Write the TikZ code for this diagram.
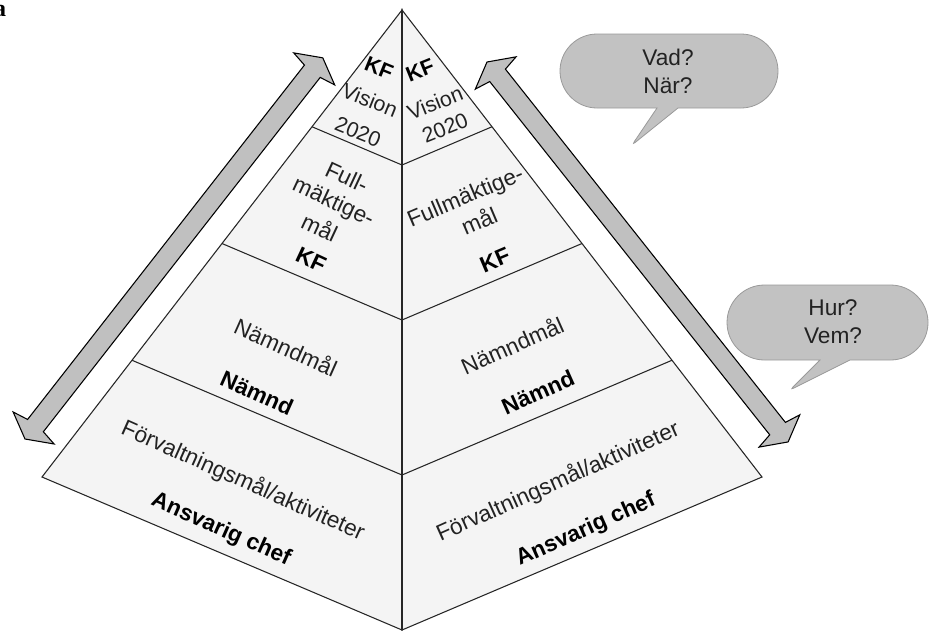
\documentclass[tikz,border=0pt]{standalone}
\usepackage{fontspec}
\setmainfont{Liberation Sans}
\newfontfamily\serifbold{Liberation Serif}
\usetikzlibrary{calc}
\definecolor{facefill}{HTML}{F4F4F4}
\definecolor{edgecol}{HTML}{262626}
\definecolor{arrowfill}{HTML}{C0C0C0}
\definecolor{bubblefill}{HTML}{C2C2C2}
\definecolor{bubbleedge}{HTML}{9A9A9A}
\definecolor{txt}{HTML}{222222}
\begin{document}
\begin{tikzpicture}[x=0.75pt,y=0.75pt,
  face/.style={fill=facefill,draw=edgecol,line width=0.8pt,line join=miter},
  divider/.style={draw=edgecol,line width=0.8pt},
  arrowshape/.style={fill=arrowfill,draw=black,line width=0.8pt,miter limit=20},
  bubble/.style={fill=bubblefill,draw=bubbleedge,line width=0.6pt},
  lbl/.style={font=\fontsize{17}{20}\selectfont,text=txt,inner sep=0pt},
  blbl/.style={font=\fontsize{17}{20}\selectfont\bfseries,text=black,inner sep=0pt},
  tlbl/.style={font=\fontsize{16}{19}\selectfont,text=txt,inner sep=0pt},
  tblbl/.style={font=\fontsize{16}{19}\selectfont\bfseries,text=black,inner sep=0pt},
  qlbl/.style={font=\fontsize{17}{21}\selectfont,text=txt,align=center,inner sep=0pt}]
\useasboundingbox (0,0) rectangle (934,-633);

% pyramid corners
\coordinate (A) at (402,-10);
\coordinate (L) at (42,-477);
\coordinate (R) at (762,-477);
\coordinate (B) at (402,-630);

\path[face] (A) -- (L) -- (B) -- cycle;
\path[face] (A) -- (B) -- (R) -- cycle;

\foreach \t/\n in {0.25/1,0.5/2,0.75/3}{
  \coordinate (l\n) at ($(A)!\t!(L)$);
  \coordinate (c\n) at ($(A)!\t!(B)$);
  \coordinate (r\n) at ($(A)!\t!(R)$);
  \draw[divider] (l\n) -- (c\n) -- (r\n);
}
\draw[divider] (A) -- (B);

% labels, top level
\node[tblbl,rotate=-22] (kfl1) at (379,-68) {KF};
\node[tlbl,rotate=-22] (visl) at (370,-100) {Vision};
\node[tlbl,rotate=-22] (yrl) at (358,-132) {2020};
\node[tblbl,rotate=22] (kfr1) at (420,-70) {KF};
\node[tlbl,rotate=22] (visr) at (435,-103) {Vision};
\node[tlbl,rotate=22] (yrr) at (445,-128) {2020};

% level 2
\node[lbl,rotate=-25] (fl1) at (347,-177) {Full-};
\node[lbl,rotate=-25] (fl2) at (333,-203) {mäktige-};
\node[lbl,rotate=-25] (fl3) at (320,-227) {mål};
\node[blbl,rotate=-25] (kfl2) at (311,-260) {KF};
\node[lbl,rotate=23] (fr1) at (466,-198) {Fullmäktige-};
\node[lbl,rotate=23] (fr2) at (479,-220) {mål};
\node[blbl,rotate=23] (kfr2) at (495,-260) {KF};

% level 3
\node[lbl,rotate=-24] (nml) at (286,-347) {Nämndmål};
\node[blbl,rotate=-24] (nl) at (257,-393) {Nämnd};
\node[lbl,rotate=24] (nmr) at (512,-345) {Nämndmål};
\node[blbl,rotate=24] (nr) at (538,-392) {Nämnd};

% level 4
\node[lbl,rotate=-24] (fvl) at (243,-481) {Förvaltningsmål/aktiviteter};
\node[blbl,rotate=-24] (acl) at (221,-530) {Ansvarig chef};
\node[lbl,rotate=24] (fvr) at (558,-482) {Förvaltningsmål/aktiviteter};
\node[blbl,rotate=24] (acr) at (586,-530) {Ansvarig chef};

% double arrows
\coordinate (la) at (25,-439);
\coordinate (ra) at (487,-62);
\begin{scope}[shift={(la)},rotate=52.0]
  \draw[arrowshape] (0,0) -- (14,26) -- (17,10) -- (466.7,10) -- (469.7,26) -- (483.7,0)
     -- (469.7,-26) -- (466.7,-10) -- (17,-10) -- (14,-26) -- cycle;
\end{scope}
\begin{scope}[shift={(ra)},rotate=-51.6]
  \draw[arrowshape] (0,0) -- (14,26) -- (17,10) -- (467.8,10) -- (470.8,26) -- (484.8,0)
     -- (470.8,-26) -- (467.8,-10) -- (17,-10) -- (14,-26) -- cycle;
\end{scope}

% speech bubbles
\draw[bubble] (657,-108) [rounded corners=3pt]-- (632,-145) [sharp corners]-- (678,-108) -- (741,-108)
   arc[start angle=-90,end angle=90,radius=37] -- (597,-34)
   arc[start angle=90,end angle=270,radius=37] -- cycle;
\node[qlbl] (q1) at (668,-71) {Vad?\\När?};

\draw[bubble] (820,-360) [rounded corners=3pt]-- (790,-390) [sharp corners]-- (850,-360) -- (890.5,-360)
   arc[start angle=-90,end angle=90,radius=37.5] -- (764.5,-285)
   arc[start angle=90,end angle=270,radius=37.5] -- cycle;
\node[qlbl] (q2) at (833,-322) {Hur?\\Vem?};

% panel letter
\node[font=\serifbold\bfseries\fontsize{18}{18}\selectfont,anchor=base,inner sep=0pt] (panel) at (0,-16) {a};
\end{tikzpicture}
\end{document}
